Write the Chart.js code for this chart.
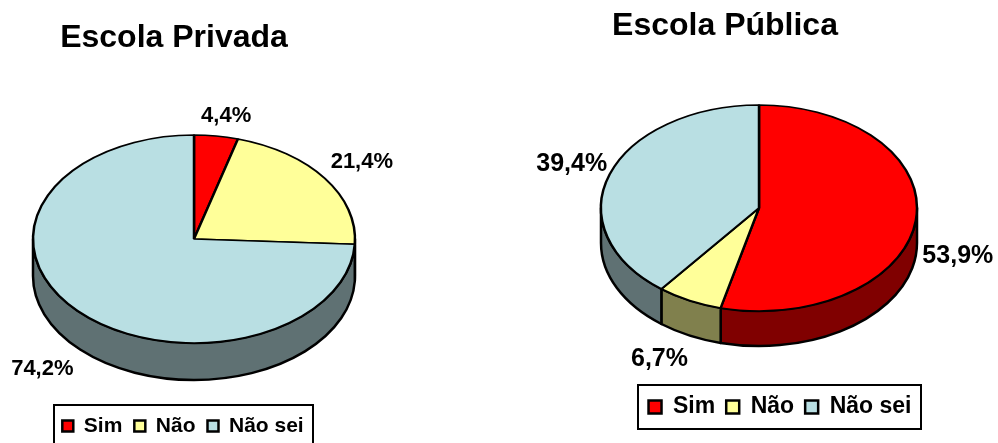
<!DOCTYPE html>
<html>
<head>
<meta charset="utf-8">
<title>Escola Privada / Escola Pública</title>
<script src="https://cdn.jsdelivr.net/npm/chart.js@4"></script>
<style>
    body { margin: 0; background: white; overflow: hidden; }
    canvas { position: absolute; top: 0; }
    #privadaChart { left: 0; }
    #publicaChart { left: 500px; }
</style>
</head>
<body>
<canvas id="privadaChart" width="500" height="443"></canvas>
<canvas id="publicaChart" width="498" height="443"></canvas>
<script>
var categorias = ['Sim', 'Não', 'Não sei'];
var privada = [4.4, 21.4, 74.2];
var publica = [53.9, 6.7, 39.4];
var cores = ['#ff0000', '#ffff99', '#b9dfe3'];
var coresLado = ['#800000', '#80804d', '#5f7173'];

var privadaVista = {
    titulo: 'Escola Privada', tituloX: 174, tituloY: 38,
    cx: 194, cy: 239, rx: 161, ry: 104, fundo: 37,
    fonteRotulo: 22, desvios: [[10, -20], [37, -16], [-35, 58]],
    fonteLegenda: 21, espaco: 12, boxLegenda: 11, legendaX: 183, legendaY: 426,
    moldura: [54, 405, 259, 42]
};
var publicaVista = {
    titulo: 'Escola Pública', tituloX: 225, tituloY: 26,
    cx: 259, cy: 208, rx: 158, ry: 103, fundo: 35,
    fonteRotulo: 25, desvios: [[42, 36], [-30, 59], [-38, -10]],
    fonteLegenda: 23, espaco: 11, boxLegenda: 13, legendaX: 280, legendaY: 407,
    moldura: [138, 385, 283, 44]
};

var pizza3d = {
    id: 'pizza3d',
    beforeDraw: function (chart) {
        var v = chart.options.plugins.pizza3d.vista;
        var t = chart.titleBlock;
        t.left = v.tituloX - 150;
        t.right = v.tituloX + 150;
        t.top = v.tituloY - 19;

        var l = chart.legend;
        var w = l.width;
        l.left = v.legendaX - w / 2;
        l.right = v.legendaX + w / 2;
        l.top = v.legendaY - v.fonteLegenda / 2 - l.options.labels.padding;

        var ctx = chart.ctx;
        ctx.save();
        ctx.lineWidth = 2;
        ctx.strokeStyle = 'black';
        ctx.strokeRect(v.moldura[0], v.moldura[1], v.moldura[2], v.moldura[3]);
        ctx.restore();
    },
    beforeDatasetsDraw: function (chart) {
        var v = chart.options.plugins.pizza3d.vista;
        var ctx = chart.ctx;
        var arcos = chart.getDatasetMeta(0).data;

        // lateral da pizza, so a metade de baixo aparece
        ctx.save();
        ctx.lineWidth = 2.5;
        ctx.strokeStyle = 'black';
        ctx.lineJoin = 'round';
        arcos.forEach(function (arco, i) {
            var a = Math.max(arco.startAngle, 0);
            var b = Math.min(arco.endAngle, Math.PI);
            if (b <= a) return;
            ctx.beginPath();
            ctx.ellipse(v.cx, v.cy, v.rx, v.ry, 0, a, b);
            ctx.ellipse(v.cx, v.cy + v.fundo, v.rx, v.ry, 0, b, a, true);
            ctx.closePath();
            ctx.fillStyle = coresLado[i];
            ctx.fill();
            ctx.stroke();
        });
        ctx.restore();

        // achata o topo
        var p = arcos[0];
        ctx.save();
        ctx.translate(v.cx, v.cy);
        ctx.scale(v.rx / p.outerRadius, v.ry / p.outerRadius);
        ctx.translate(-p.x, -p.y);
    },
    afterDatasetsDraw: function (chart) {
        chart.ctx.restore();
    },
    afterDraw: function (chart) {
        var v = chart.options.plugins.pizza3d.vista;
        var ctx = chart.ctx;
        var valores = chart.data.datasets[0].data;
        ctx.save();
        ctx.fillStyle = 'black';
        ctx.font = 'bold ' + v.fonteRotulo + 'px "Liberation Sans"';
        ctx.textAlign = 'center';
        ctx.textBaseline = 'middle';
        chart.getDatasetMeta(0).data.forEach(function (arco, i) {
            var meio = (arco.startAngle + arco.endAngle) / 2;
            var x = v.cx + v.rx * Math.cos(meio) + v.desvios[i][0];
            var y = v.cy + v.ry * Math.sin(meio) + v.desvios[i][1];
            ctx.fillText(valores[i].toFixed(1).replace('.', ',') + '%', x, y);
        });
        ctx.restore();
    }
};

function grafico(id, valores, vista) {
    return new Chart(document.getElementById(id).getContext('2d'), {
        type: 'pie',
        data: {
            labels: categorias,
            datasets: [{
                data: valores,
                backgroundColor: cores,
                borderColor: 'black',
                borderWidth: 2.5,
                clip: false
            }]
        },
        plugins: [pizza3d],
        options: {
            responsive: false,
            animation: false,
            events: [],
            radius: vista.rx,
            plugins: {
                pizza3d: { vista: vista },
                tooltip: { enabled: false },
                title: {
                    display: true,
                    text: vista.titulo,
                    color: 'black',
                    padding: 0,
                    font: { family: '"Liberation Sans"', size: 32, weight: 'bold', lineHeight: 1.2 }
                },
                legend: {
                    position: 'bottom',
                    labels: {
                        color: 'black',
                        boxWidth: vista.boxLegenda,
                        boxHeight: vista.boxLegenda,
                        padding: vista.espaco,
                        font: { family: '"Liberation Sans"', size: vista.fonteLegenda, weight: 'bold' }
                    }
                }
            }
        }
    });
}

grafico('privadaChart', privada, privadaVista);
grafico('publicaChart', publica, publicaVista);
</script>
</body>
</html>
